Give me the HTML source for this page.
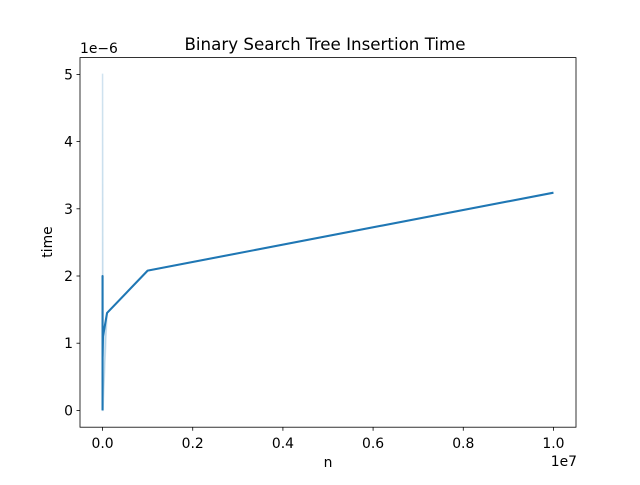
<!DOCTYPE html>
<html><head><meta charset="utf-8"><style>
body{margin:0;background:#fff;font-family:"Liberation Sans","DejaVu Sans",sans-serif}
text{font-family:"DejaVu Sans","Liberation Sans",sans-serif;font-size:13.9px;fill:#000}
</style></head><body>
<svg width="640" height="480">
<text x="325" y="50" text-anchor="middle" style="font-size:16.7px">Binary Search Tree Insertion Time</text>
<g id="band"></g><g id="series"></g>
<rect x="80" y="57.6" width="496" height="369.6" fill="none" stroke="#000" stroke-width="0.8"/>
<g id="xt"></g><g id="yt"></g>
<text x="328" y="467" text-anchor="middle">n</text>
<text x="0" y="0" transform="translate(52,242) rotate(-90)" text-anchor="middle">time</text>
<text x="80" y="53">1e−6</text>
<text x="577" y="466" text-anchor="end">1e7</text>
</svg>
<script>
const nVals=[10,100,1000,10000,100000,1000000,10000000];
const timeVals=[0,2.0,0.8,1.1,1.45,2.08,3.24];
const bandLo=[0,0,0,0,1.45,2.08,3.24];
const bandHi=[5,5,5,1.1,1.45,2.08,3.24];
const xTicks=[0,0.2,0.4,0.6,0.8,1.0];
const yTicks=[0,1,2,3,4,5];
const ns="http://www.w3.org/2000/svg";
const X=v=>80+(v+0.05e7)/1.1e7*496;
const Y=v=>427.2-(v+0.25)/5.5*369.6;
function el(t,a,p){const e=document.createElementNS(ns,t);for(const k in a)e.setAttribute(k,a[k]);document.getElementById(p).appendChild(e);return e;}
let pts=nVals.map((n,i)=>X(n)+','+Y(bandHi[i])).concat(nVals.map((n,i)=>X(n)+','+Y(bandLo[i])).reverse());
const b=el('polygon',{points:pts.join(' '),fill:'#1f77b4','fill-opacity':0.2,stroke:'#1f77b4','stroke-opacity':0.2,'stroke-width':1.5},'band');


const l=el('polyline',{points:nVals.map((n,i)=>X(n)+','+Y(timeVals[i])).join(' '),fill:'none',stroke:'#1f77b4','stroke-width':2.08,'stroke-linejoin':'round'},'series');


xTicks.forEach(t=>{const x=X(t*1e7);
const k=el('line',{x1:x,x2:x,y1:427.2,y2:430.7,stroke:'#000','stroke-width':0.8},'xt');


const s=el('text',{x:x,y:448,'text-anchor':'middle'},'xt');s.textContent=t.toFixed(1);

});
yTicks.forEach(t=>{const y=Y(t);
const k=el('line',{x1:76.5,x2:80,y1:y,y2:y,stroke:'#000','stroke-width':0.8},'yt');


const s=el('text',{x:73,y:y+5,'text-anchor':'end'},'yt');s.textContent=t;

});
</script>
</body></html>
